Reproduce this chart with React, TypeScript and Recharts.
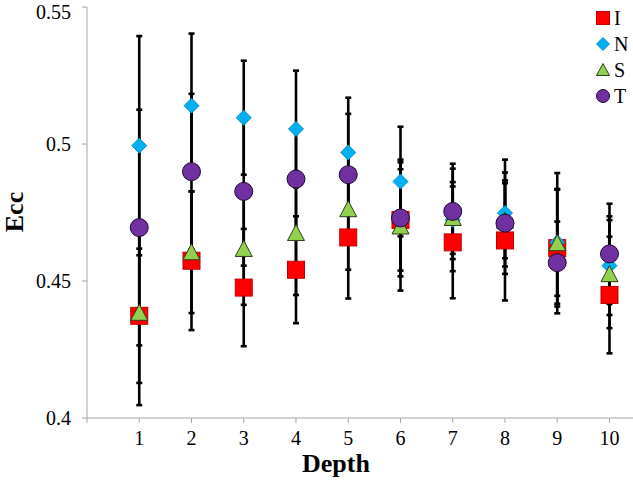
import React from "react";
import { ScatterChart, Scatter, XAxis, YAxis, ErrorBar } from "recharts";

const depths = [1, 2, 3, 4, 5, 6, 7, 8, 9, 10];

const iValues = [0.4373, 0.4574, 0.4476, 0.4541, 0.4659, 0.4723, 0.4641, 0.4648, 0.462, 0.4449];
const iErrors = [0.0245, 0.0253, 0.0214, 0.0195, 0.0223, 0.0185, 0.0204, 0.0219, 0.0213, 0.0213];

const nValues = [0.4994, 0.514, 0.5096, 0.5055, 0.4969, 0.4863, 0.4723, 0.4748, 0.4641, 0.4556];
const nErrors = [0.04, 0.0263, 0.0208, 0.0213, 0.02, 0.02, 0.0187, 0.0195, 0.0195, 0.018];

const sValues = [0.4384, 0.4605, 0.4617, 0.4675, 0.4762, 0.4699, 0.473, 0.472, 0.4638, 0.4525];
const sErrors = [0.0337, 0.0222, 0.0204, 0.0226, 0.0221, 0.0234, 0.0131, 0.0137, 0.0256, 0.0197];

const tValues = [0.4695, 0.4899, 0.4827, 0.4872, 0.4888, 0.473, 0.4754, 0.4711, 0.4567, 0.4599];
const tErrors = [0.043, 0.0284, 0.0271, 0.019, 0.0222, 0.0213, 0.0174, 0.0185, 0.015, 0.0183];

const xTicks = [0, 1, 2, 3, 4, 5, 6, 7, 8, 9, 10];
const yTicks = [0.4, 0.45, 0.5, 0.55];

const toPoints = (values: number[], errors: number[]) =>
  depths.map((d, i) => ({ x: d, y: values[i], err: errors[i] }));

const FONT = "'Liberation Serif', 'Times New Roman', serif";
const AXIS = "#a6a6a6";

const Square = ({ cx, cy, s = 17 }: any) => (
  <rect x={cx - s / 2} y={cy - s / 2} width={s} height={s} fill="#ff0000" stroke="#c00000" strokeWidth={1} />
);
const Diamond = ({ cx, cy, s = 15 }: any) => (
  <polygon
    points={`${cx},${cy - s / 2} ${cx + s / 2},${cy} ${cx},${cy + s / 2} ${cx - s / 2},${cy}`}
    fill="#00b0f0"
    stroke="#0a8fc4"
    strokeWidth={1}
  />
);
const Triangle = ({ cx, cy, s = 17 }: any) => (
  <polygon
    points={`${cx},${cy - s / 2} ${cx + s / 2},${cy + s / 2 - 1} ${cx - s / 2},${cy + s / 2 - 1}`}
    fill="#92d050"
    stroke="#2e3d1c"
    strokeWidth={1}
  />
);
const Circle = ({ cx, cy, s = 18 }: any) => (
  <circle cx={cx} cy={cy} r={s / 2} fill="#7030a0" stroke="#1e0a2c" strokeWidth={1} />
);
const Nothing = () => <g />;

const series = [
  { name: "I", data: toPoints(iValues, iErrors), shape: Square },
  { name: "N", data: toPoints(nValues, nErrors), shape: Diamond },
  { name: "S", data: toPoints(sValues, sErrors), shape: Triangle },
  { name: "T", data: toPoints(tValues, tErrors), shape: Circle },
];

function LegendBox() {
  return (
    <div style={{ position: "absolute", left: 594, top: 5, fontFamily: FONT, fontSize: 20, color: "#000" }}>
      {series.map((s) => {
        const Icon = s.shape;
        return (
          <div key={s.name} style={{ display: "flex", alignItems: "center", height: 26 }}>
            <svg width={18} height={18}>
              <Icon cx={9} cy={9} s={13} />
            </svg>
            <span style={{ marginLeft: 2, lineHeight: "20px" }}>{s.name}</span>
          </div>
        );
      })}
    </div>
  );
}

export default function App() {
  return (
    <div style={{ position: "absolute", left: 0, top: 0, width: 633, height: 486, background: "#fff" }}>
      <ScatterChart width={633} height={486} margin={{ top: 7, right: 0, bottom: 0, left: 0 }}>
        <XAxis
          type="number"
          dataKey="x"
          domain={[0, 10.45]}
          ticks={xTicks}
          allowDataOverflow
          height={68}
          tickFormatter={(v: number) => (v === 0 ? "" : String(v))}
          axisLine={{ stroke: AXIS }}
          tickLine={{ stroke: AXIS }}
          tickSize={5}
          tickMargin={8}
          tick={{ fill: "#000", fontSize: 20, fontFamily: FONT }}
          label={() => (
            <text x={336} y={472} textAnchor="middle" fontFamily={FONT} fontSize={26} fontWeight="bold" fill="#000">
              Depth
            </text>
          )}
        />
        <YAxis
          type="number"
          dataKey="y"
          domain={[0.4, 0.55]}
          ticks={yTicks}
          width={87}
          axisLine={{ stroke: AXIS }}
          tickLine={{ stroke: AXIS }}
          tickSize={5}
          tickMargin={11}
          tick={{ fill: "#000", fontSize: 20, fontFamily: FONT }}
          label={() => (
            <text
              x={23}
              y={212}
              textAnchor="middle"
              transform="rotate(-90 23 212)"
              fontFamily={FONT}
              fontSize={26}
              fontWeight="bold"
              fill="#000"
            >
              Ecc
            </text>
          )}
        />
        {series.map((s) => (
          <Scatter
            key={"err-" + s.name}
            name={s.name + "-err"}
            data={s.data}
            shape={Nothing}
            legendType="none"
            isAnimationActive={false}
          >
            <ErrorBar dataKey="err" direction="y" width={3} stroke="#000" strokeWidth={2.6} />
          </Scatter>
        ))}
        {series.map((s) => (
          <Scatter
            key={s.name}
            name={s.name}
            data={s.data}
            shape={(p: any) => <s.shape cx={p.cx} cy={p.cy} />}
            isAnimationActive={false}
          />
        ))}
      </ScatterChart>
      <LegendBox />
    </div>
  );
}
